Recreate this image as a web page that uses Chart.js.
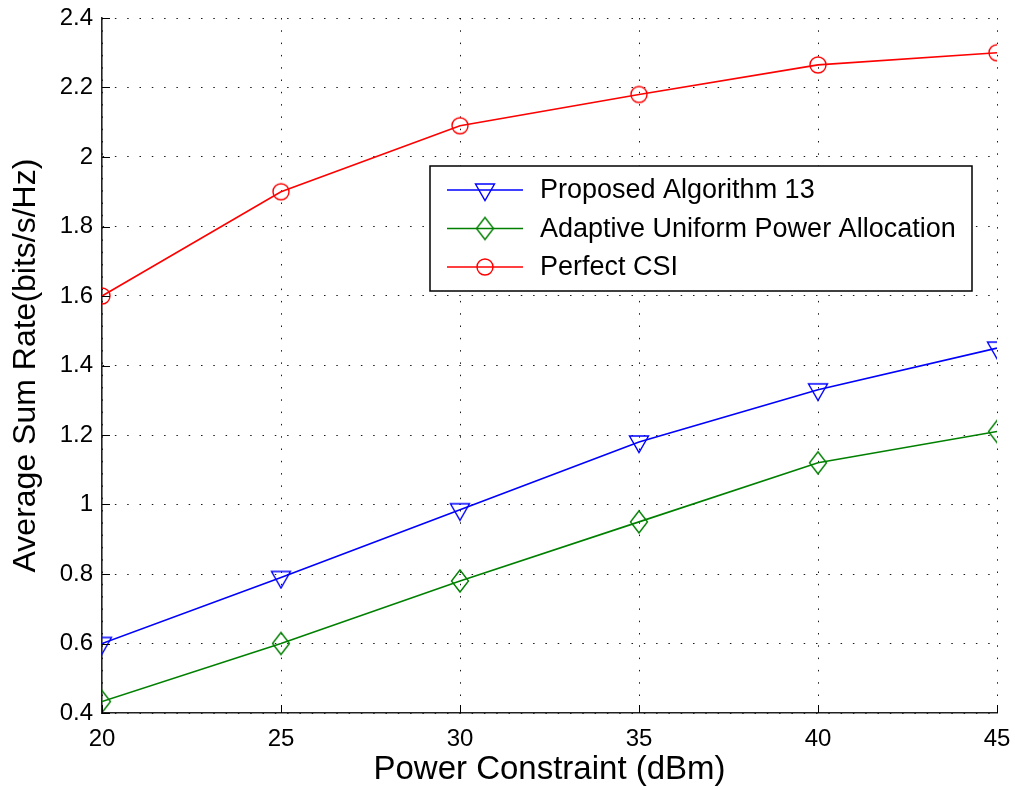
<!DOCTYPE html>
<html>
<head>
<meta charset="utf-8">
<title>Average Sum Rate</title>
<script src="https://cdn.jsdelivr.net/npm/chart.js@4/dist/chart.umd.min.js"></script>
<style>
  body { margin: 0; background: #fff; }
  #wrap { width: 1015px; height: 790px; }
</style>
</head>
<body>
<div id="wrap"><canvas id="myChart" width="1015" height="790"></canvas></div>
<script>
// values
var powerDbm = [20, 25, 30, 35, 40, 45];
var proposedRate = [0.60, 0.79, 0.985, 1.18, 1.33, 1.45];
var adaptiveRate = [0.433, 0.60, 0.78, 0.95, 1.12, 1.21];
var perfectRate = [1.60, 1.90, 2.09, 2.18, 2.265, 2.30];

var seriesNames = ['Proposed Algorithm 13', 'Adaptive Uniform Power Allocation', 'Perfect CSI'];
var xTicks = [20, 25, 30, 35, 40, 45];
var yTicks = [0.4, 0.6, 0.8, 1.0, 1.2, 1.4, 1.6, 1.8, 2.0, 2.2, 2.4];

var FONT = '"Liberation Sans", Arial, Helvetica, sans-serif';

// matlab style hollow markers
function makeMarker(w, h, color, draw) {
    var c = document.createElement('canvas');
    c.width = w; c.height = h;
    var g = c.getContext('2d');
    g.strokeStyle = color;
    g.lineWidth = 1.4;
    g.beginPath();
    draw(g, w / 2, h / 2);
    g.closePath();
    g.stroke();
    return c;
}
var triMark = makeMarker(24, 24, '#0000ff', function(g, cx, cy) {
    g.moveTo(cx - 9.5, cy - 6);
    g.lineTo(cx + 9.5, cy - 6);
    g.lineTo(cx, cy + 10.5);
});
var diaMark = makeMarker(22, 26, '#008000', function(g, cx, cy) {
    g.moveTo(cx, cy - 11);
    g.lineTo(cx + 8.5, cy);
    g.lineTo(cx, cy + 11);
    g.lineTo(cx - 8.5, cy);
});
var cirMark = makeMarker(20, 20, '#ff0000', function(g, cx, cy) {
    g.arc(cx, cy, 8, 0, Math.PI * 2);
});

function toPoints(ys) {
    return ys.map(function(v, i) { return {x: powerDbm[i], y: v}; });
}

var legendBox = {
    id: 'legendBox',
    afterDatasetsDraw: function(chart) {
        var ctx = chart.ctx;
        var x0 = 430, y0 = 166, w = 542, h = 125;
        ctx.save();
        ctx.fillStyle = '#fff';
        ctx.fillRect(x0, y0, w, h);
        ctx.strokeStyle = '#000';
        ctx.lineWidth = 1.5;
        ctx.strokeRect(x0, y0, w, h);
        ctx.font = '27px ' + FONT;
        ctx.textBaseline = 'middle';
        ctx.textAlign = 'left';
        chart.data.datasets.forEach(function(ds, i) {
            var y = 190 + i * 38.5;
            ctx.strokeStyle = ds.borderColor;
            ctx.lineWidth = 1.6;
            ctx.beginPath();
            ctx.moveTo(447, y);
            ctx.lineTo(523, y);
            ctx.stroke();
            var m = ds.pointStyle;
            ctx.drawImage(m, 485 - m.width / 2, y - m.height / 2);
            ctx.fillStyle = '#000';
            ctx.fillText(ds.label, 540, y + 1);
        });
        ctx.restore();
    }
};

// ticks pointing inwards like matlab
var innerTicks = {
    id: 'innerTicks',
    afterDraw: function(chart) {
        var ctx = chart.ctx, a = chart.chartArea;
        var xs = chart.scales.x, ys = chart.scales.y;
        ctx.save();
        ctx.strokeStyle = '#000';
        ctx.lineWidth = 1;
        ctx.beginPath();
        xTicks.forEach(function(t) {
            var px = Math.round(xs.getPixelForValue(t)) + 0.5;
            ctx.moveTo(px, a.bottom);
            ctx.lineTo(px, a.bottom - 8);
        });
        yTicks.forEach(function(t) {
            var py = Math.round(ys.getPixelForValue(t)) + 0.5;
            ctx.moveTo(a.left, py);
            ctx.lineTo(a.left + 8, py);
        });
        ctx.stroke();
        ctx.restore();
    }
};

function fixBox(size, key) {
    return function(s) {
        s[key] = size;
        s.paddingTop = 0; s.paddingBottom = 0;
        s.paddingLeft = 0; s.paddingRight = 0;
    };
}

var gridStyle = {color: 'rgba(0,0,0,0.9)', lineWidth: 1, drawTicks: false};
var borderStyle = {display: true, color: '#222', width: 1.6, dash: [1.5, 10.8]};

new Chart(document.getElementById('myChart').getContext('2d'), {
    type: 'line',
    data: {
        datasets: [{
            label: seriesNames[0],
            data: toPoints(proposedRate),
            borderColor: '#0000ff',
            pointStyle: triMark
        }, {
            label: seriesNames[1],
            data: toPoints(adaptiveRate),
            borderColor: '#008000',
            pointStyle: diaMark
        }, {
            label: seriesNames[2],
            data: toPoints(perfectRate),
            borderColor: '#ff0000',
            pointStyle: cirMark
        }]
    },
    options: {
        responsive: false,
        animation: false,
        events: [],
        layout: {padding: {top: 18, right: 18, left: 0, bottom: 0}},
        elements: {
            line: {borderWidth: 1.6, tension: 0, fill: false},
            point: {radius: 10, backgroundColor: 'rgba(0,0,0,0)'}
        },
        plugins: {legend: {display: false}, tooltip: {enabled: false}},
        scales: {
            x: {
                type: 'linear',
                min: 20, max: 45,
                afterFit: fixBox(77, 'height'),
                afterBuildTicks: function(s) { s.ticks = xTicks.map(function(v) { return {value: v}; }); },
                grid: gridStyle,
                border: borderStyle,
                ticks: {color: '#000', padding: 12, font: {family: FONT, size: 24}},
                title: {display: true, text: 'Power Constraint (dBm)', color: '#000',
                        font: {family: FONT, size: 33, lineHeight: 1}, padding: {top: 0, bottom: 4}}
            },
            y: {
                min: 0.4, max: 2.4,
                afterFit: fixBox(102, 'width'),
                afterBuildTicks: function(s) { s.ticks = yTicks.map(function(v) { return {value: v}; }); },
                grid: gridStyle,
                border: borderStyle,
                ticks: {color: '#000', padding: 9, font: {family: FONT, size: 24},
                        callback: function(v) { return String(Math.round(v * 10) / 10); }},
                title: {display: true, text: 'Average Sum Rate(bits/s/Hz)', color: '#000',
                        font: {family: FONT, size: 32, lineHeight: 1}, padding: {top: 10, bottom: 0}}
            }
        }
    },
    plugins: [legendBox, innerTicks]
});
</script>
</body>
</html>
